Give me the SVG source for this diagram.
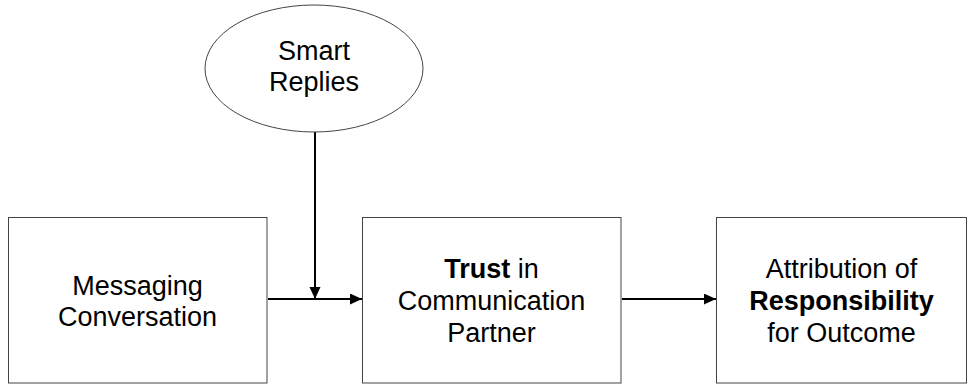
<svg xmlns="http://www.w3.org/2000/svg" width="969" height="385" viewBox="0 0 969 385">
<defs>
<style>
.box{fill:#fff;stroke:#444;stroke-width:1}
.ell{fill:#fff;stroke:#444;stroke-width:1}
.t{font-family:"Liberation Sans",Arial,sans-serif;font-size:27px;fill:#000;text-anchor:middle}
.b{font-weight:bold}
.c{stroke:#000;stroke-width:2;fill:none}
</style>
<marker id="ah" markerUnits="userSpaceOnUse" markerWidth="13" markerHeight="12" refX="12" refY="5.5" orient="auto">
<path d="M0,0 L12,5.5 L0,11 Z" fill="#000"/>
</marker>
</defs>
<rect width="969" height="385" fill="#fff"/>
<g id="connectors">
<line class="c" x1="268" y1="299" x2="362" y2="299" marker-end="url(#ah)"/>
<line class="c" x1="315" y1="132" x2="315" y2="299" marker-end="url(#ah)"/>
<line class="c" x1="622" y1="299" x2="716" y2="299" marker-end="url(#ah)"/>
</g>
<g id="smart-replies">
<ellipse class="ell" cx="314" cy="68.5" rx="109" ry="63.5"/>
<text class="t" x="314" y="60">Smart</text>
<text class="t" x="314" y="91">Replies</text>
</g>
<g id="messaging-conversation">
<rect class="box" x="8.5" y="217.5" width="258.5" height="165.5"/>
<text class="t" x="137.5" y="295">Messaging</text>
<text class="t" x="137.5" y="326">Conversation</text>
</g>
<g id="trust">
<rect class="box" x="362.5" y="217.5" width="258.5" height="165.5"/>
<text class="t" x="491.5" y="278"><tspan class="b">Trust</tspan> in</text>
<text class="t" x="491.5" y="310">Communication</text>
<text class="t" x="491.5" y="342">Partner</text>
</g>
<g id="attribution">
<rect class="box" x="716.5" y="217.5" width="250" height="165.5"/>
<text class="t" x="841.5" y="278">Attribution of</text>
<text class="t b" x="841.5" y="310">Responsibility</text>
<text class="t" x="841.5" y="342">for Outcome</text>
</g>
</svg>
